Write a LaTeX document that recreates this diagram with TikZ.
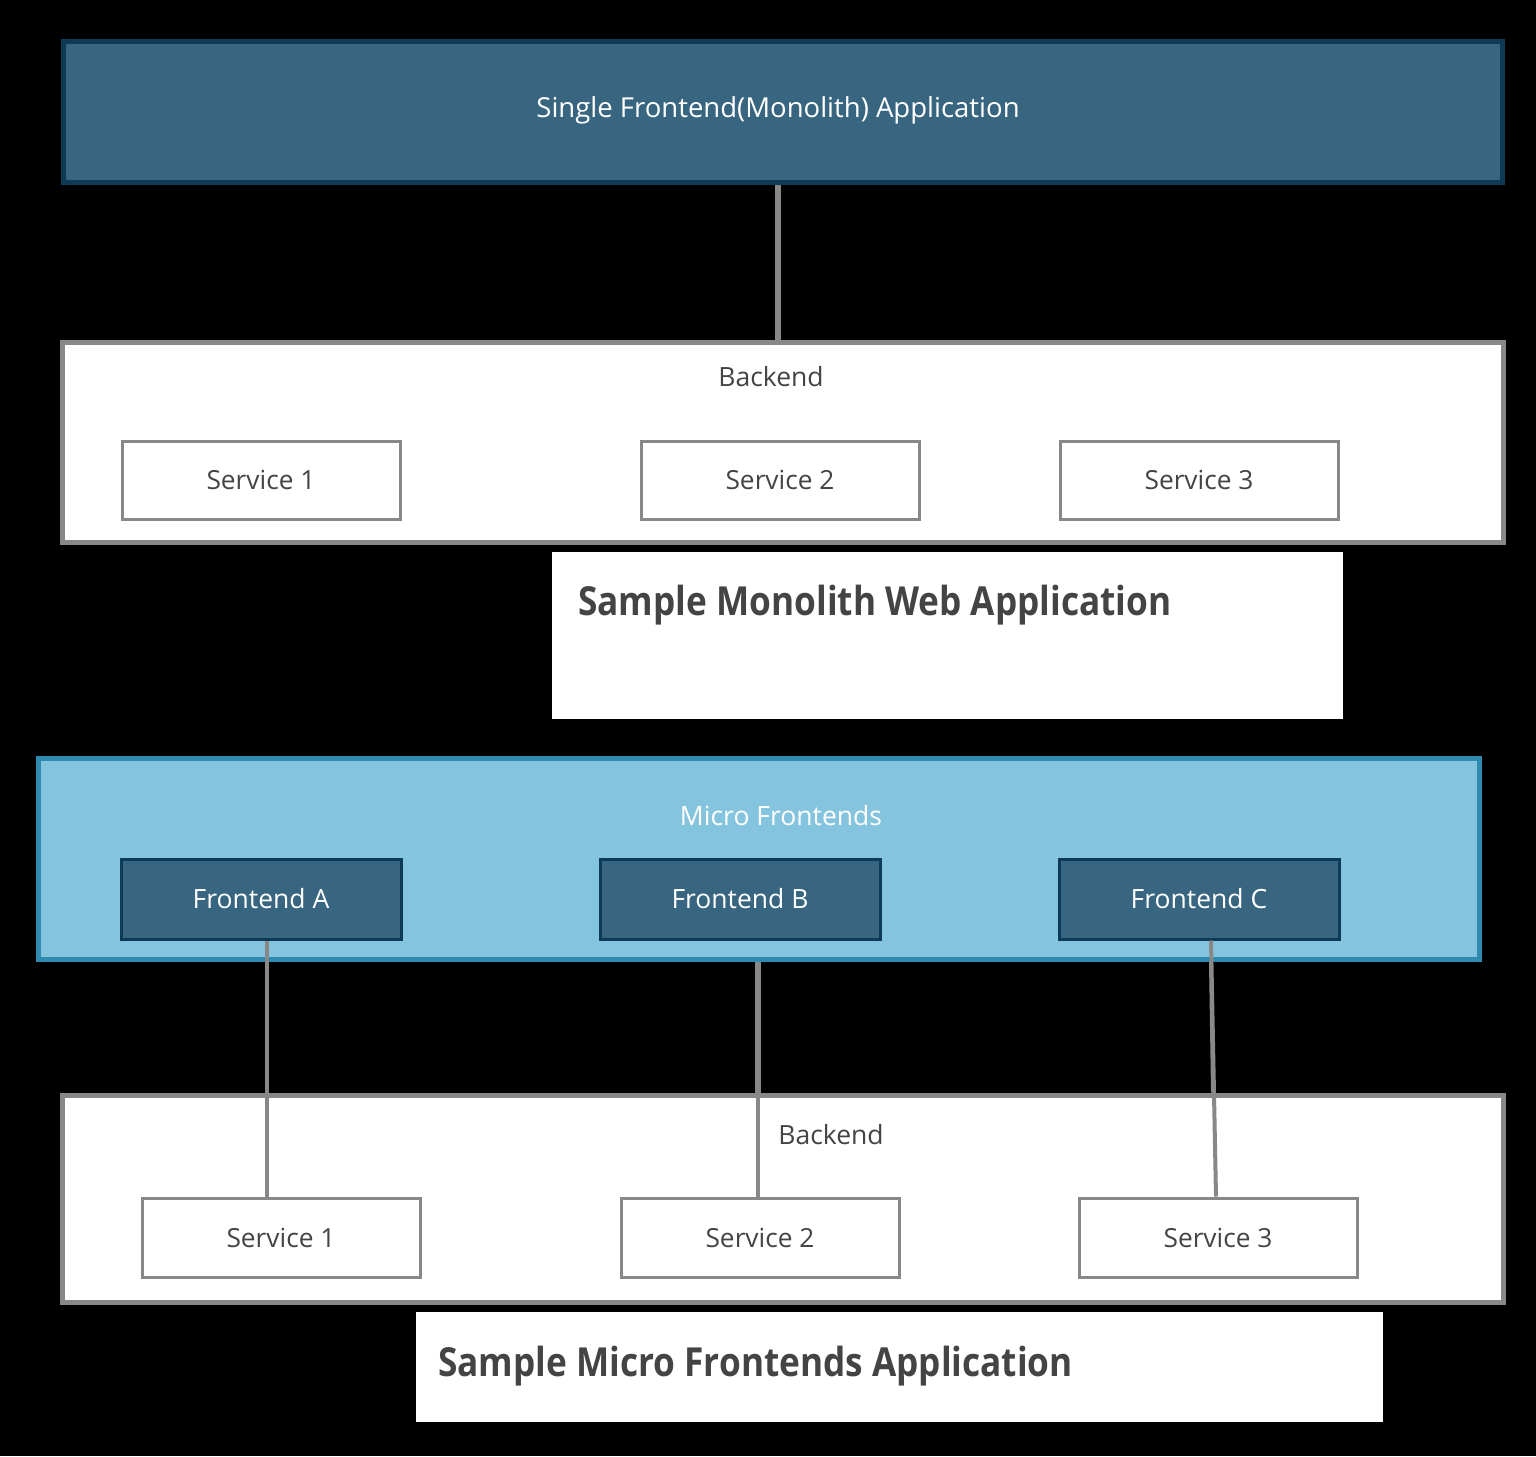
\documentclass[tikz,border=0pt]{standalone}
\usepackage{fontspec}
\setmainfont{Open Sans}
\newfontfamily\titlefont{Open Sans}[FakeStretch=0.88]
\definecolor{darkblue}{HTML}{386580}
\definecolor{darkborder}{HTML}{0D3A55}
\definecolor{lightblue}{HTML}{84C4DE}
\definecolor{lightborder}{HTML}{2E8AB0}
\definecolor{greyline}{HTML}{888888}
\definecolor{txtgrey}{HTML}{444444}
\tikzset{
  box/.style={draw, rectangle, inner sep=0pt, anchor=north west},
  topbox/.style={box, fill=darkblue, draw=darkborder, line width=5pt},
  backbox/.style={box, fill=white, draw=greyline, line width=5pt},
  svcbox/.style={box, fill=white, draw=greyline, line width=3pt, font=\fontsize{26.3}{30}\selectfont, text=txtgrey},
  febox/.style={box, fill=darkblue, draw=darkborder, line width=3pt, font=\fontsize{26.5}{30}\selectfont, text=white},
  mfbox/.style={box, fill=lightblue, draw=lightborder, line width=5pt},
  titlebox/.style={box, fill=white, draw=none},
  lbl/.style={inner sep=0pt, font=\fontsize{26.5}{30}\selectfont},
  toplbl/.style={inner sep=0pt, font=\fontsize{27.5}{32}\selectfont},
  ttl/.style={inner sep=0pt, anchor=west, font=\titlefont\bfseries\fontsize{40}{46}\selectfont, text=txtgrey},
  conn/.style={draw=greyline, line width=4pt},
}
\begin{document}
\begin{tikzpicture}[x=1pt,y=-1pt]
\fill[black] (0,0) rectangle (1536,1456);
\useasboundingbox (0,0) rectangle (1536,1456);
% Monolith
\node[topbox, minimum width=1439pt, minimum height=141pt] (mono) at (60.5,38.5) {};
\node[toplbl, text=white] (monotxt) at (778,110) {Single Frontend(Monolith) Application};
\node[backbox, minimum width=1441pt, minimum height=200pt] (back1) at (59.5,339.5) {};
\node[lbl, text=txtgrey] (back1txt) at (771,377) {Backend};
\node[svcbox, minimum width=278pt, minimum height=78pt] (m1) at (120.5,439.5) {Service 1};
\node[svcbox, minimum width=278pt, minimum height=78pt] (m2) at (639.5,439.5) {Service 2};
\node[svcbox, minimum width=278pt, minimum height=78pt] (m3) at (1058.5,439.5) {Service 3};
\draw[conn, line width=6pt] (mono.south -| 778,0) -- (back1.north -| 778,0);
\node[titlebox, minimum width=791pt, minimum height=167pt] (t1) at (552,552) {};
\node[ttl] (t1txt) at (578,605) {Sample Monolith Web Application};
% Micro frontends
\node[mfbox, minimum width=1441pt, minimum height=201pt] (mf) at (35.5,755.5) {};
\node[lbl, text=white] (mftxt) at (781,816) {Micro Frontends};
\node[backbox, minimum width=1441pt, minimum height=207pt] (back2) at (59.5,1092.5) {};
\node[lbl, text=txtgrey] (back2txt) at (831,1135) {Backend};
\node[svcbox, minimum width=278pt, minimum height=79pt] (s1) at (140.5,1196.5) {Service 1};
\node[svcbox, minimum width=278pt, minimum height=79pt] (s2) at (619.5,1196.5) {Service 2};
\node[svcbox, minimum width=278pt, minimum height=79pt] (s3) at (1077.5,1196.5) {Service 3};
\draw[conn] (mf.south -| 267,0) -- (back2.north -| 267,0);
\draw[conn, line width=6pt] (mf.south -| 758,0) -- (back2.north -| 758,0);
\draw[conn] (mf.south -| 1211,0) -- (back2.north -| 1213,0);
\node[febox, minimum width=280pt, minimum height=80pt] (fa) at (119.5,857.5) {Frontend A};
\node[febox, minimum width=280pt, minimum height=80pt] (fb) at (598.5,857.5) {Frontend B};
\node[febox, minimum width=280pt, minimum height=80pt] (fc) at (1057.5,857.5) {Frontend C};
\draw[conn] (fa.south -| 267,0) -- (s1.north -| 267,0);
\draw[conn] (back2.north -| 758,0) -- (s2.north -| 758,0);
\draw[conn] (fc.south -| 1211,0) -- (s3.north -| 1216,0);
\node[titlebox, minimum width=967pt, minimum height=110pt] (t2) at (416,1312) {};
\node[ttl] (t2txt) at (438,1366) {Sample Micro Frontends Application};
\end{tikzpicture}
\end{document}
